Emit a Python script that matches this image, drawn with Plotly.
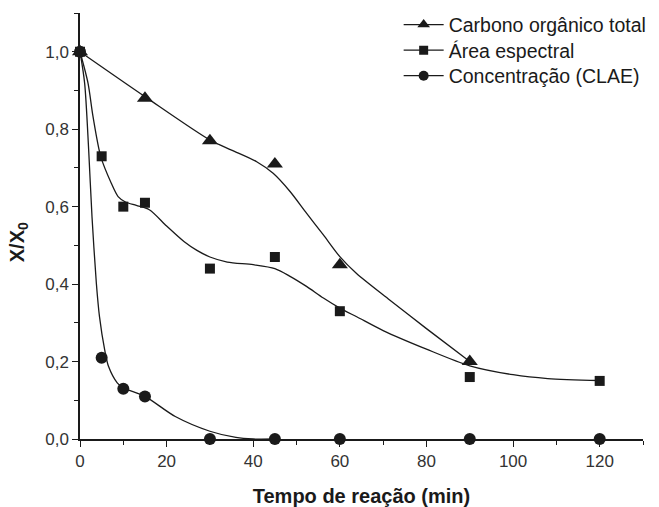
import plotly.graph_objects as go

# ---- data ----
toc_x = [0, 15, 30, 45, 60, 90]
toc_y = [1.0, 0.88, 0.77, 0.71, 0.45, 0.20]

spec_x = [0, 5, 10, 15, 30, 45, 60, 90, 120]
spec_y = [1.0, 0.73, 0.60, 0.61, 0.44, 0.47, 0.33, 0.16, 0.15]

clae_x = [0, 5, 10, 15, 30, 45, 60, 90, 120]
clae_y = [1.0, 0.21, 0.13, 0.11, 0.0, 0.0, 0.0, 0.0, 0.0]

# smoothed fit curves
toc_fit_x = [0, 15, 30, 35, 40.8, 44.6, 48.5, 52.3, 56.2, 60, 63.8, 71.5, 80, 90]
toc_fit_y = [1.0, 0.884, 0.772, 0.746, 0.716, 0.686, 0.639, 0.583, 0.527, 0.471, 0.428, 0.359, 0.285, 0.20]

spec_fit_x = [0, 1.85, 3.0, 4.8, 7.2, 8.8, 10.5, 13, 16, 20, 24, 27, 30, 34, 40, 45,
              48.5, 52.3, 56.2, 60, 64, 70, 80, 90, 100, 108, 120]
spec_fit_y = [1.0, 0.919, 0.833, 0.729, 0.661, 0.626, 0.612, 0.603, 0.592, 0.55, 0.51, 0.487, 0.47,
              0.457, 0.450, 0.440, 0.42, 0.394, 0.364, 0.338, 0.315, 0.28, 0.232, 0.189, 0.166, 0.156, 0.151]

clae_fit_x = [0, 1.07, 2.0, 2.77, 3.77, 4.5, 5.7, 6.6, 8.6, 10, 15, 22, 30, 36, 40, 45]
clae_fit_y = [1.0, 0.919, 0.747, 0.574, 0.403, 0.316, 0.23, 0.187, 0.145, 0.132, 0.11, 0.058, 0.02, 0.004, 0.0, 0.0]

names = ["Carbono orgânico total", "Área espectral", "Concentração (CLAE)"]
symbols = ["triangle-up", "square", "circle"]

x_ticks = [0, 20, 40, 60, 80, 100, 120]
y_ticks = [0.0, 0.2, 0.4, 0.6, 0.8, 1.0]

INK = "#1a1a1a"
FONT = "Liberation Sans, Arial, sans-serif"

fig = go.Figure()

series = [
    (toc_x, toc_y, toc_fit_x, toc_fit_y, 14),
    (spec_x, spec_y, spec_fit_x, spec_fit_y, 10),
    (clae_x, clae_y, clae_fit_x, clae_fit_y, 12),
]

for (sx, sy, fx, fy, msize), name, sym in zip(series, names, symbols):
    fig.add_trace(go.Scatter(
        x=fx, y=fy, mode="lines",
        line=dict(color=INK, width=1.3, shape="spline", smoothing=0.8),
        showlegend=False, hoverinfo="skip", cliponaxis=False,
    ))
    fig.add_trace(go.Scatter(
        x=sx, y=sy, mode="markers",
        marker=dict(symbol=sym, size=msize, color=INK, line=dict(width=0)),
        showlegend=False, cliponaxis=False, name=name,
    ))

# legend entries (line + marker), one legend box per row for exact spacing
legend_ids = ["legend", "legend2", "legend3"]
legend_rows_y = [0.972, 0.912, 0.852]
legend_sizes = [11, 9, 10]
for name, sym, lid, ms in zip(names, symbols, legend_ids, legend_sizes):
    fig.add_trace(go.Scatter(
        x=[None], y=[None], mode="lines+markers", name=name, legend=lid,
        line=dict(color=INK, width=1.3),
        marker=dict(symbol=sym, size=ms, color=INK),
    ))

legend_style = dict(
    x=0.566, xanchor="left", yanchor="middle",
    bgcolor="rgba(0,0,0,0)", borderwidth=0,
    font=dict(family=FONT, size=19.5, color=INK),
    itemwidth=40,
)

fig.update_layout(
    width=659, height=507,
    margin=dict(l=80, r=16, t=13, b=68, autoexpand=False),
    paper_bgcolor="white", plot_bgcolor="white",
    separators=",.",
    font=dict(family=FONT, color=INK, size=17),
    showlegend=True,
    legend=dict(y=legend_rows_y[0], **legend_style),
    legend2=dict(y=legend_rows_y[1], **legend_style),
    legend3=dict(y=legend_rows_y[2], **legend_style),
    xaxis=dict(
        range=[0, 130], tickvals=x_ticks, showgrid=False, zeroline=False,
        showline=True, linecolor=INK, linewidth=1.5, automargin=False,
        ticks="outside", ticklen=6, tickwidth=1.3, tickcolor=INK,
        tickfont=dict(size=17, color="#333333"),
        minor=dict(dtick=10, tick0=0, ticks="outside", ticklen=4, tickwidth=1.2, tickcolor=INK, showgrid=False),
        title=dict(text="<b>Tempo de reação (min)</b>", font=dict(size=20, color=INK), standoff=23),
    ),
    yaxis=dict(
        range=[0, 1.1], tickvals=y_ticks, tickformat=".1f", showgrid=False, zeroline=False,
        showline=True, linecolor=INK, linewidth=1.5, automargin=False,
        ticks="outside", ticklen=6, tickwidth=1.3, tickcolor=INK,
        tickfont=dict(size=17, color="#333333"),
        minor=dict(dtick=0.1, tick0=0, ticks="outside", ticklen=4, tickwidth=1.2, tickcolor=INK, showgrid=False),
    ),
    annotations=[dict(
        text="<b>X/X<sub>0</sub></b>", textangle=-90,
        xref="paper", yref="paper", x=-0.110, y=0.462,
        xanchor="center", yanchor="middle", showarrow=False,
        font=dict(family=FONT, size=20, color=INK),
    )],
)

fig.write_html("out.html")
